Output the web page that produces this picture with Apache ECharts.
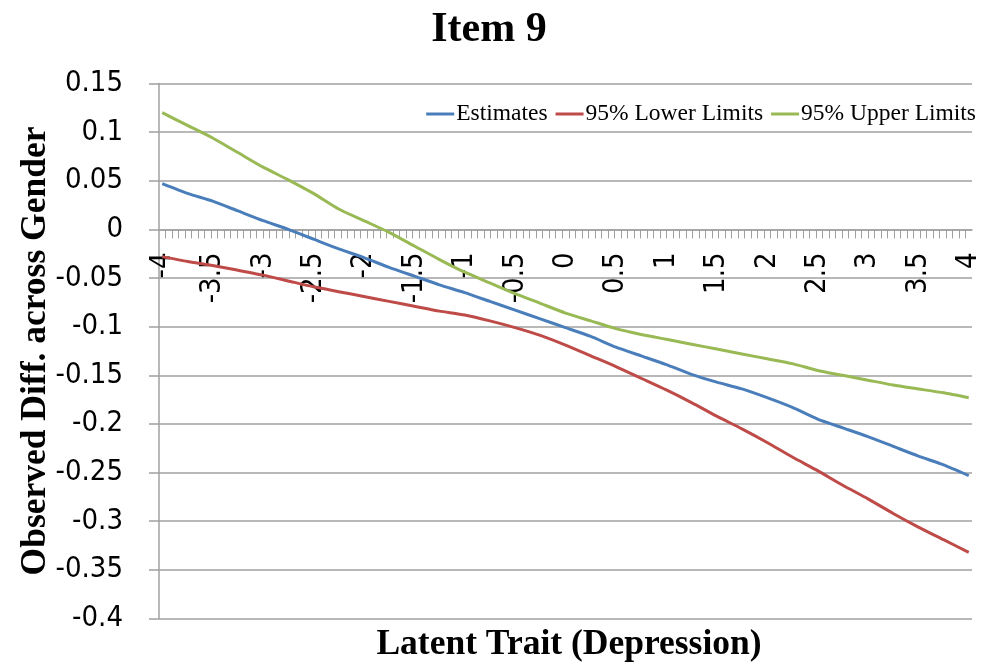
<!DOCTYPE html>
<html>
<head>
<meta charset="utf-8">
<title>Item 9</title>
<script src="https://cdn.jsdelivr.net/npm/echarts@6/dist/echarts.min.js"></script>
<style>
  html, body { margin: 0; padding: 0; background: #ffffff; }
  #chart { width: 989px; height: 667px; }
</style>
</head>
<body>
<div id="chart"></div>
<script>
// Latent trait values (x) shared by all three curves
const theta = [-4, -3.75, -3.5, -3.25, -3, -2.75, -2.5, -2.25, -2, -1.75, -1.5, -1.25, -1, -0.75, -0.5, -0.25,
  0, 0.25, 0.5, 0.75, 1, 1.25, 1.5, 1.75, 2, 2.25, 2.5, 2.75, 3, 3.25, 3.5, 3.75, 4];

// Observed difference across gender: point estimates and 95% limits
const estimates = [0.047, 0.037, 0.029, 0.019, 0.009, 0.000, -0.010, -0.020, -0.029, -0.039, -0.048, -0.057, -0.065, -0.074, -0.083, -0.092,
  -0.101, -0.110, -0.121, -0.130, -0.139, -0.149, -0.157, -0.164, -0.173, -0.183, -0.195, -0.204, -0.213, -0.223, -0.233, -0.242, -0.253];
const lowerLimits = [-0.028, -0.033, -0.037, -0.042, -0.047, -0.053, -0.059, -0.064, -0.069, -0.074, -0.079, -0.084, -0.088, -0.094, -0.101, -0.109,
  -0.119, -0.130, -0.141, -0.153, -0.165, -0.178, -0.192, -0.205, -0.219, -0.234, -0.248, -0.263, -0.277, -0.292, -0.306, -0.319, -0.332];
const upperLimits = [0.120, 0.107, 0.094, 0.079, 0.064, 0.051, 0.037, 0.021, 0.009, -0.003, -0.017, -0.031, -0.044, -0.055, -0.066, -0.076,
  -0.086, -0.094, -0.102, -0.108, -0.113, -0.118, -0.123, -0.128, -0.133, -0.138, -0.145, -0.150, -0.155, -0.160, -0.164, -0.168, -0.173];

// Axis labels
const xTickLabels = [-4, -3.5, -3, -2.5, -2, -1.5, -1, -0.5, 0, 0.5, 1, 1.5, 2, 2.5, 3, 3.5, 4];
const yMin = -0.4, yMax = 0.15, yStep = 0.05;

const seriesNames = ['Estimates', '95% Lower Limits', '95% Upper Limits'];
const seriesColors = ['#4a7ebb', '#be4b48', '#98b954'];

// Category-style tick marks: 125 evenly spaced cells across the range
const cellCount = 125;
const cellWidth = 8 / (cellCount - 1);
const xMin = -4 - cellWidth / 2;
const xMax = 4 + cellWidth / 2;
const minorTicks = [];
for (let i = 0; i <= cellCount; i++) minorTicks.push(+(xMin + i * cellWidth).toFixed(5));

const pairs = (ys) => theta.map((t, i) => [t, ys[i]]);

// Plot box; the horizontal axis is lifted from the bottom edge to the zero line
const W = 989, H = 667;
const gridBox = { left: 159, right: 17, top: 83.5, bottom: 48.5 };
const plotH = H - gridBox.top - gridBox.bottom;
const zeroOffset = plotH * (0 - yMin) / (yMax - yMin);

const sansFont = "'DejaVu Sans Condensed', 'DejaVu Sans', sans-serif";
const serifFont = "'Liberation Serif', 'Times New Roman', serif";

const chart = echarts.init(document.getElementById('chart'), null, { renderer: 'canvas' });
chart.setOption({
  backgroundColor: '#ffffff',
  animation: false,
  title: [
    {
      text: 'Item 9',
      left: 484, top: 4, textAlign: 'center',
      textStyle: { fontFamily: serifFont, fontWeight: 'bold', fontSize: 42, color: '#000' }
    },
    {
      text: 'Latent Trait (Depression)',
      left: 564, top: 622, textAlign: 'center',
      textStyle: { fontFamily: serifFont, fontWeight: 'bold', fontSize: 35.5, color: '#000' }
    }
  ],
  legend: {
    data: seriesNames,
    right: 8, top: 97,
    icon: 'rect', itemWidth: 28, itemHeight: 3, itemGap: 8,
    textStyle: { fontFamily: serifFont, fontSize: 23.5, color: '#000', padding: [0, 0, 0, -3] }
  },
  grid: Object.assign({ containLabel: false, outerBoundsMode: 'none' }, gridBox),
  xAxis: {
    type: 'value',
    position: 'bottom',
    offset: -zeroOffset,
    min: xMin, max: xMax,
    axisLine: { show: true, onZero: false, lineStyle: { color: '#a0a0a0', width: 1.5 } },
    axisTick: { show: true, customValues: minorTicks, length: 9, inside: false, lineStyle: { color: '#a0a0a0', width: 1 } },
    axisLabel: {
      customValues: xTickLabels,
      rotate: 90, margin: 23,
      fontFamily: sansFont, fontSize: 29, color: '#000',
      formatter: (v) => String(v)
    },
    splitLine: { show: false }
  },
  yAxis: {
    type: 'value',
    min: yMin, max: yMax, interval: yStep,
    name: 'Observed Diff. across Gender',
    nameLocation: 'middle', nameGap: 105, nameRotate: 90,
    nameMoveOverlap: false,
    nameTextStyle: { fontFamily: serifFont, fontWeight: 'bold', fontSize: 35.5, color: '#000' },
    axisLine: { show: true, onZero: false, lineStyle: { color: '#a0a0a0', width: 1.5 } },
    axisTick: { show: true, length: 10, lineStyle: { color: '#a0a0a0', width: 1.5 } },
    axisLabel: {
      margin: 36,
      fontFamily: sansFont, fontSize: 29, color: '#000',
      formatter: (v) => String(+v.toFixed(2))
    },
    splitLine: { show: true, lineStyle: { color: '#a0a0a0', width: 1.5 } }
  },
  series: [estimates, lowerLimits, upperLimits].map((ys, i) => ({
    name: seriesNames[i],
    type: 'line',
    data: pairs(ys),
    showSymbol: false,
    symbol: 'none',
    smooth: 0.2,
    lineStyle: { color: seriesColors[i], width: 3 },
    itemStyle: { color: seriesColors[i] },
    z: 3 + i
  }))
});
</script>
</body>
</html>
